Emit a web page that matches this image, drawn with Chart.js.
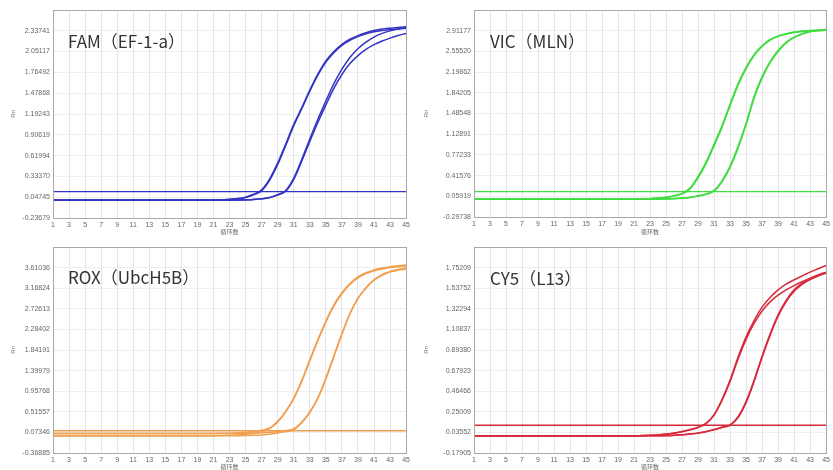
<!DOCTYPE html>
<html>
<head>
<meta charset="utf-8">
<script src="https://cdn.jsdelivr.net/npm/chart.js@4.4.1/dist/chart.umd.min.js"></script>
<style>
body { margin: 0; background: #fff; }
#wrap { position: relative; width: 833px; height: 470px; overflow: hidden; }
canvas { position: absolute; }
.tag { position: absolute; font-family: "Noto Sans CJK SC", "Noto Sans", sans-serif; font-size: 17px; line-height: 1; color: #333; white-space: nowrap; }
</style>
</head>
<body>
<div id="wrap">
  <canvas id="fam" width="413" height="235" style="left:0;top:0"></canvas>
  <canvas id="vic" width="420" height="235" style="left:413px;top:0"></canvas>
  <canvas id="rox" width="413" height="235" style="left:0;top:235px"></canvas>
  <canvas id="cy5" width="420" height="235" style="left:413px;top:235px"></canvas>
  <div class="tag" style="left:68px;top:32px">FAM（EF-1-a）</div>
  <div class="tag" style="left:490px;top:32px">VIC（MLN）</div>
  <div class="tag" style="left:68px;top:268px">ROX（UbcH5B）</div>
  <div class="tag" style="left:490px;top:269px">CY5（L13）</div>
</div>
<script>
// cycle numbers and axis ticks
const cycles = [1,2,3,4,5,6,7,8,9,10,11,12,13,14,15,16,17,18,19,20,21,22,23,24,25,26,27,28,29,30,31,32,33,34,35,36,37,38,39,40,41,42,43,44,45];
const xTicks = [1,3,5,7,9,11,13,15,17,19,21,23,25,27,29,31,33,35,37,39,41,43,45];

const famTicks = [-0.23679, 0.04745, 0.33370, 0.61994, 0.90619, 1.19243, 1.47868, 1.76492, 2.05117, 2.33741];
const vicTicks = [-0.29738, 0.05919, 0.41576, 0.77233, 1.12891, 1.48548, 1.84205, 2.19862, 2.55520, 2.91177];
const roxTicks = [-0.36885, 0.07346, 0.51557, 0.95768, 1.39979, 1.84191, 2.28402, 2.72613, 3.16824, 3.61036];
const cy5Ticks = [-0.17905, 0.03552, 0.25009, 0.46466, 0.67923, 0.89380, 1.10837, 1.32294, 1.53752, 1.75209];

// FAM (EF-1-a)
const famEarlyA = [0.010,0.010,0.010,0.010,0.010,0.010,0.010,0.010,0.010,0.010,
  0.010,0.010,0.010,0.010,0.010,0.010,0.010,0.010,0.011,0.011,
  0.012,0.015,0.020,0.030,0.050,0.090,0.150,0.300,0.520,0.780,
  1.050,1.280,1.520,1.740,1.920,2.050,2.150,2.220,2.270,2.310,
  2.340,2.360,2.372,2.382,2.390];
const famEarlyB = [0.008,0.008,0.008,0.008,0.008,0.008,0.008,0.008,0.008,0.008,
  0.008,0.008,0.008,0.008,0.008,0.008,0.008,0.008,0.009,0.009,
  0.010,0.013,0.018,0.027,0.045,0.082,0.140,0.285,0.500,0.760,
  1.030,1.265,1.505,1.725,1.905,2.035,2.135,2.205,2.255,2.295,
  2.322,2.340,2.352,2.362,2.370];
const famLateA = [0.008,0.008,0.008,0.008,0.008,0.008,0.008,0.008,0.008,0.008,
  0.008,0.008,0.008,0.008,0.008,0.008,0.008,0.008,0.008,0.008,
  0.008,0.008,0.009,0.011,0.014,0.019,0.028,0.046,0.085,0.140,
  0.310,0.570,0.850,1.120,1.370,1.610,1.810,1.970,2.090,2.180,
  2.250,2.300,2.335,2.360,2.380];
const famLateB = [0.006,0.006,0.006,0.006,0.006,0.006,0.006,0.006,0.006,0.006,
  0.006,0.006,0.006,0.006,0.006,0.006,0.006,0.006,0.006,0.006,
  0.006,0.006,0.007,0.009,0.012,0.017,0.026,0.043,0.080,0.132,
  0.295,0.545,0.815,1.075,1.315,1.545,1.735,1.885,1.995,2.080,
  2.145,2.195,2.235,2.270,2.300];
const famThreshold = 0.125;

// VIC (MLN)
const vicEarlyA = [0.013,0.013,0.013,0.013,0.013,0.013,0.013,0.013,0.013,0.013,
  0.013,0.013,0.013,0.013,0.013,0.013,0.013,0.013,0.013,0.013,
  0.014,0.016,0.020,0.030,0.045,0.070,0.110,0.200,0.400,0.650,
  0.960,1.280,1.650,2.000,2.280,2.500,2.650,2.760,2.820,2.860,
  2.890,2.905,2.915,2.920,2.925];
const vicEarlyB = [0.008,0.008,0.008,0.008,0.008,0.008,0.008,0.008,0.008,0.008,
  0.008,0.008,0.008,0.008,0.008,0.008,0.008,0.008,0.008,0.008,
  0.009,0.011,0.015,0.024,0.038,0.062,0.100,0.185,0.375,0.620,
  0.930,1.250,1.620,1.975,2.260,2.485,2.640,2.750,2.815,2.855,
  2.882,2.898,2.908,2.914,2.918];
const vicLateA = [0.013,0.013,0.013,0.013,0.013,0.013,0.013,0.013,0.013,0.013,
  0.013,0.013,0.013,0.013,0.013,0.013,0.013,0.013,0.013,0.013,
  0.013,0.013,0.013,0.014,0.016,0.020,0.030,0.045,0.070,0.100,
  0.160,0.330,0.580,0.920,1.320,1.780,2.120,2.380,2.570,2.710,
  2.800,2.860,2.900,2.920,2.935];
const vicLateB = [0.008,0.008,0.008,0.008,0.008,0.008,0.008,0.008,0.008,0.008,
  0.008,0.008,0.008,0.008,0.008,0.008,0.008,0.008,0.008,0.008,
  0.008,0.008,0.008,0.009,0.011,0.015,0.024,0.038,0.062,0.092,
  0.150,0.310,0.555,0.890,1.290,1.750,2.095,2.360,2.555,2.700,
  2.792,2.852,2.892,2.912,2.925];
const vicThreshold = 0.14;

// ROX (UbcH5B)
const roxEarlyA = [0.050,0.050,0.050,0.050,0.050,0.050,0.050,0.050,0.050,0.050,
  0.050,0.050,0.050,0.050,0.050,0.050,0.050,0.050,0.050,0.050,
  0.051,0.053,0.057,0.064,0.075,0.092,0.118,0.170,0.310,0.530,
  0.810,1.190,1.630,2.060,2.460,2.810,3.070,3.270,3.410,3.500,
  3.560,3.600,3.630,3.650,3.665];
const roxEarlyB = [0.000,0.000,0.000,0.000,0.000,0.000,0.000,0.000,0.000,0.000,
  0.000,0.000,0.000,0.000,0.000,0.000,0.000,0.000,0.000,0.000,
  0.002,0.005,0.010,0.020,0.035,0.060,0.095,0.155,0.295,0.515,
  0.795,1.170,1.610,2.040,2.440,2.790,3.050,3.250,3.390,3.480,
  3.540,3.580,3.610,3.630,3.645];
const roxLateA = [0.000,0.000,0.000,0.000,0.000,0.000,0.000,0.000,0.000,0.000,
  0.000,0.000,0.000,0.000,0.000,0.000,0.000,0.000,0.000,0.000,
  0.000,0.000,0.000,0.002,0.006,0.012,0.020,0.035,0.060,0.090,
  0.130,0.280,0.500,0.800,1.220,1.700,2.180,2.620,2.950,3.180,
  3.350,3.460,3.530,3.570,3.600];
const roxLateB = [0.050,0.050,0.050,0.050,0.050,0.050,0.050,0.050,0.050,0.050,
  0.050,0.050,0.050,0.050,0.050,0.050,0.050,0.050,0.050,0.050,
  0.050,0.050,0.050,0.051,0.054,0.059,0.066,0.077,0.093,0.115,
  0.150,0.295,0.515,0.815,1.235,1.715,2.190,2.625,2.950,3.175,
  3.340,3.445,3.515,3.555,3.575];
const roxThreshold = 0.11;

// CY5 (L13)
const cy5EarlyA = [0.000,0.000,0.000,0.000,0.000,0.000,0.000,0.000,0.000,0.000,
  0.000,0.000,0.000,0.000,0.000,0.000,0.000,0.000,0.000,0.000,
  0.000,0.003,0.006,0.010,0.018,0.030,0.045,0.065,0.090,0.130,
  0.220,0.380,0.580,0.820,1.030,1.200,1.340,1.440,1.520,1.580,
  1.625,1.665,1.705,1.740,1.775];
const cy5EarlyB = [0.000,0.000,0.000,0.000,0.000,0.000,0.000,0.000,0.000,0.000,
  0.000,0.000,0.000,0.000,0.000,0.000,0.000,0.000,0.000,0.000,
  0.000,0.002,0.005,0.009,0.016,0.027,0.042,0.062,0.087,0.127,
  0.215,0.370,0.565,0.800,1.005,1.170,1.300,1.395,1.465,1.520,
  1.565,1.605,1.640,1.672,1.700];
const cy5LateA = [0.000,0.000,0.000,0.000,0.000,0.000,0.000,0.000,0.000,0.000,
  0.000,0.000,0.000,0.000,0.000,0.000,0.000,0.000,0.000,0.000,
  0.000,0.000,0.000,0.000,0.002,0.006,0.012,0.020,0.030,0.045,
  0.065,0.090,0.115,0.200,0.360,0.580,0.830,1.060,1.260,1.410,
  1.520,1.590,1.640,1.675,1.705];
const cy5LateB = [0.000,0.000,0.000,0.000,0.000,0.000,0.000,0.000,0.000,0.000,
  0.000,0.000,0.000,0.000,0.000,0.000,0.000,0.000,0.000,0.000,
  0.000,0.000,0.000,0.000,0.001,0.005,0.010,0.018,0.028,0.042,
  0.062,0.086,0.110,0.190,0.345,0.565,0.815,1.045,1.245,1.395,
  1.505,1.578,1.628,1.665,1.695];
const cy5Threshold = 0.11;

function toPoints(values) {
    return values.map((v, i) => ({ x: cycles[i], y: v }));
}

// grey frame round the plot area
const plotBorder = {
    id: 'plotBorder',
    afterDraw(chart) {
        const { ctx, chartArea: a } = chart;
        ctx.save();
        ctx.strokeStyle = '#a8a8a8';
        ctx.lineWidth = 1;
        ctx.strokeRect(Math.round(a.left) + 0.5, Math.round(a.top) + 0.5,
            Math.round(a.right - a.left), Math.round(a.bottom - a.top));
        ctx.restore();
    }
};

function makePanel(id, color, curves, threshold, ticks, layout) {
    const step = ticks[1] - ticks[0];
    const yMax = ticks[ticks.length - 1] + step;
    const datasets = curves.map(c => ({
        data: toPoints(c),
        borderColor: color,
        borderWidth: 1.5,
        pointRadius: 0,
        cubicInterpolationMode: 'monotone',
        fill: false
    }));
    datasets.push({
        data: [{ x: cycles[0], y: threshold }, { x: cycles[cycles.length - 1], y: threshold }],
        borderColor: color,
        borderWidth: 1.4,
        pointRadius: 0,
        fill: false
    });

    new Chart(document.getElementById(id), {
        type: 'line',
        data: { datasets: datasets },
        plugins: [plotBorder],
        options: {
            responsive: false,
            animation: false,
            devicePixelRatio: 1,
            layout: { padding: { top: layout.top, right: layout.right, left: 0, bottom: 0 } },
            plugins: { legend: { display: false }, tooltip: { enabled: false } },
            scales: {
                x: {
                    type: 'linear',
                    min: cycles[0],
                    max: cycles[cycles.length - 1],
                    afterBuildTicks: s => { s.ticks = xTicks.map(v => ({ value: v })); },
                    afterFit: s => { s.height = layout.xh; },
                    grid: { color: '#e4e4e4', drawTicks: false },
                    border: { display: false },
                    ticks: {
                        autoSkip: false, maxRotation: 0, padding: 3, color: '#666',
                        font: { family: 'Liberation Sans', size: 7 }
                    },
                    title: {
                        display: true, text: '循环数', color: '#666', padding: { top: 0, bottom: 0 },
                        font: { family: 'Noto Sans CJK SC', size: 6 }
                    }
                },
                y: {
                    min: ticks[0],
                    max: yMax,
                    afterBuildTicks: s => { s.ticks = ticks.concat([yMax]).map(v => ({ value: v })); },
                    afterFit: s => { s.width = layout.yw; },
                    grid: { color: '#eeeeee', drawTicks: false },
                    border: { display: false },
                    ticks: {
                        padding: 3, color: '#666',
                        font: { family: 'Liberation Sans', size: 7 },
                        callback: (v, i) => i < ticks.length ? ticks[i].toFixed(5) : ''
                    },
                    title: {
                        display: true, text: 'Rn', color: '#777', padding: { top: 10, bottom: 0 },
                        font: { family: 'Liberation Sans', size: 6 }
                    }
                }
            }
        }
    });
}

makePanel('fam', '#3434c4', [famEarlyA, famEarlyB, famLateA, famLateB], famThreshold, famTicks,
    { top: 10, right: 4, xh: 17, yw: 53 });
makePanel('vic', '#40dc40', [vicEarlyA, vicEarlyB, vicLateA, vicLateB], vicThreshold, vicTicks,
    { top: 10, right: 5, xh: 18, yw: 61 });
makePanel('rox', '#f0a050', [roxEarlyA, roxEarlyB, roxLateA, roxLateB], roxThreshold, roxTicks,
    { top: 12, right: 4, xh: 17, yw: 53 });
makePanel('cy5', '#d8283c', [cy5EarlyA, cy5EarlyB, cy5LateA, cy5LateB], cy5Threshold, cy5Ticks,
    { top: 12, right: 5, xh: 17, yw: 61 });
</script>
</body>
</html>
